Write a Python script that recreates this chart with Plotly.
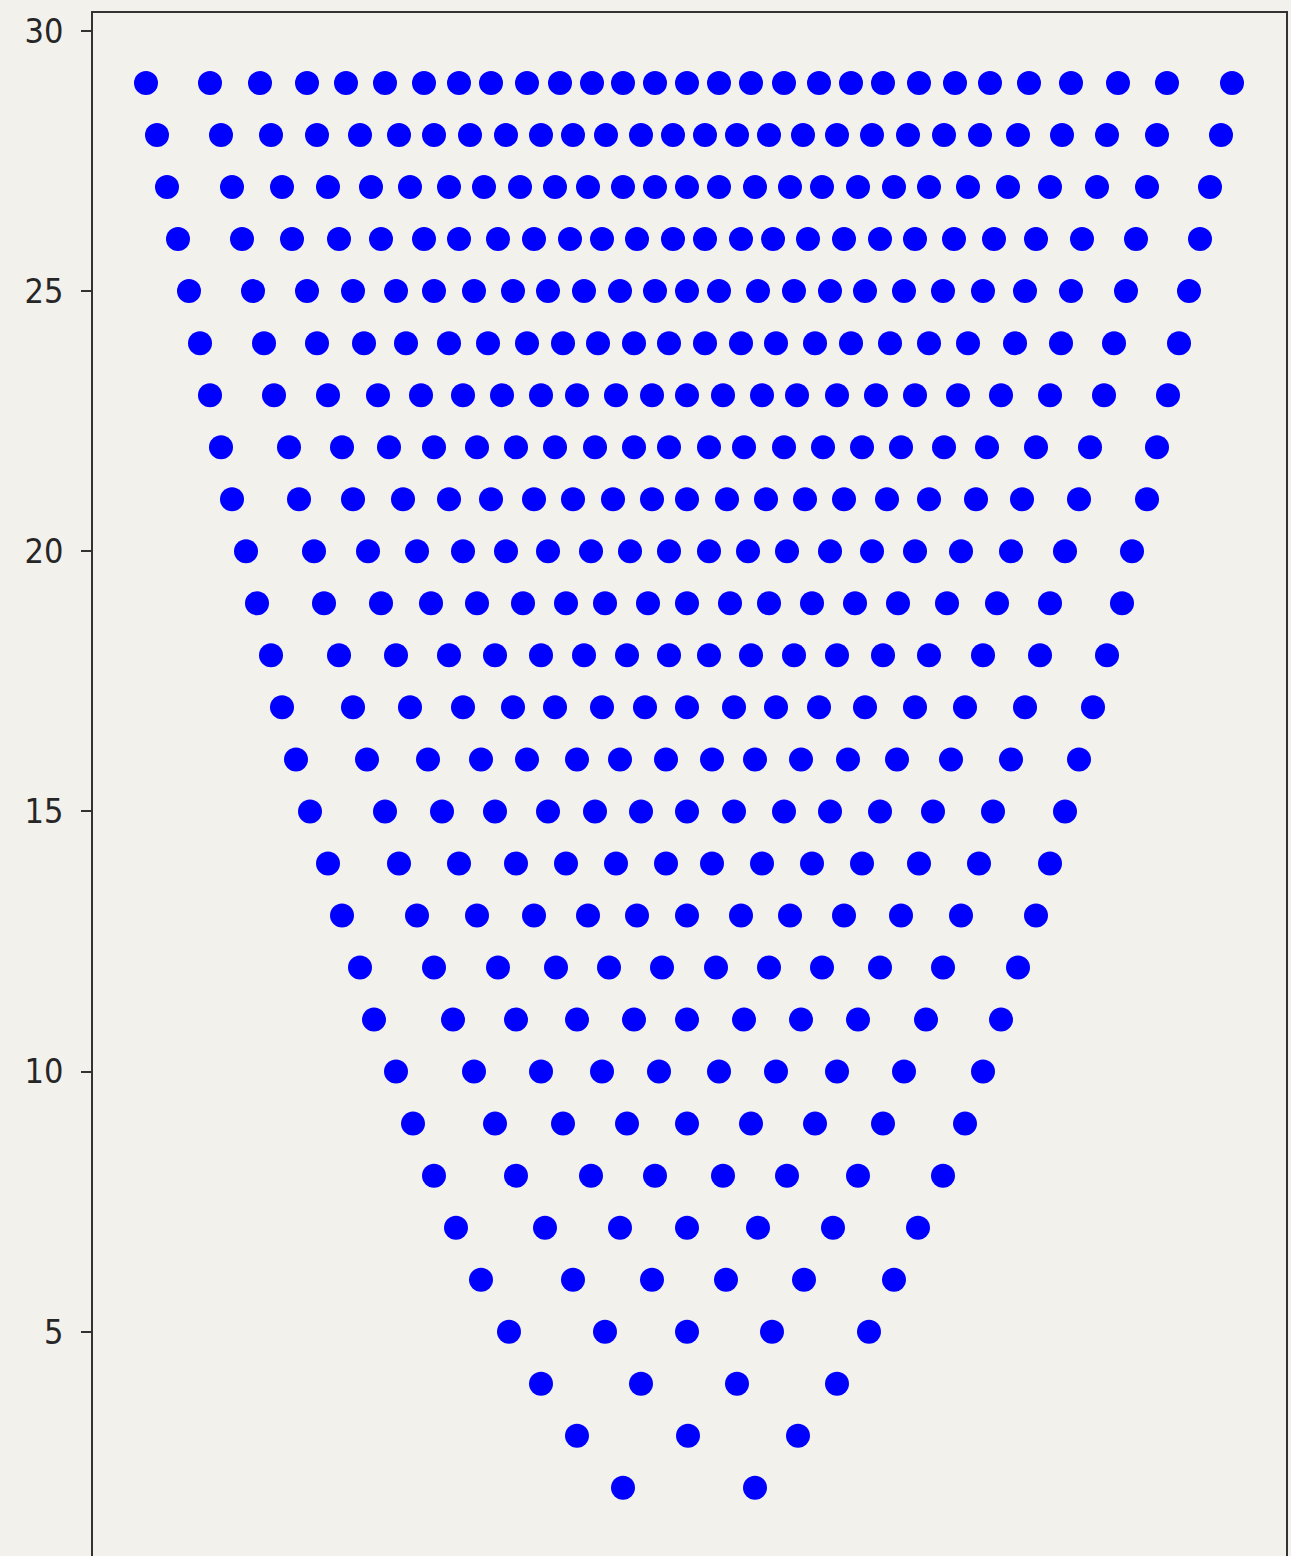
import plotly.graph_objects as go

# Point positions for each row; the row index (number of points) is the y value.
x_n29 = [-5.43, -4.79, -4.29, -3.82, -3.43, -3.04, -2.65, -2.30, -1.98, -1.62, -1.29, -0.97, -0.66, -0.34,
         -0.02, 0.30, 0.62, 0.95, 1.30, 1.62, 1.94, 2.30, 2.66, 3.01, 3.40, 3.82, 4.29, 4.78, 5.43]
x_n28 = [-5.32, -4.68, -4.18, -3.72, -3.29, -2.90, -2.55, -2.19, -1.83, -1.48, -1.16, -0.83, -0.48, -0.16,
         0.16, 0.48, 0.80, 1.14, 1.48, 1.83, 2.19, 2.55, 2.91, 3.29, 3.73, 4.18, 4.68, 5.32]
x_n27 = [-5.22, -4.57, -4.07, -3.61, -3.18, -2.79, -2.40, -2.05, -1.69, -1.34, -1.01, -0.66, -0.34, -0.02,
         0.30, 0.66, 1.01, 1.33, 1.69, 2.05, 2.40, 2.79, 3.19, 3.61, 4.08, 4.58, 5.21]
x_n26 = [-5.11, -4.47, -3.97, -3.50, -3.08, -2.65, -2.30, -1.91, -1.55, -1.19, -0.87, -0.52, -0.16,
         0.16, 0.52, 0.84, 1.19, 1.55, 1.91, 2.26, 2.65, 3.05, 3.47, 3.93, 4.47, 5.11]
x_n25 = [-5.00, -4.36, -3.82, -3.36, -2.93, -2.55, -2.15, -1.76, -1.41, -1.05, -0.69, -0.34, -0.02,
         0.30, 0.69, 1.05, 1.41, 1.76, 2.15, 2.54, 2.94, 3.36, 3.82, 4.37, 5.00]
x_n24 = [-4.89, -4.25, -3.72, -3.25, -2.83, -2.40, -2.01, -1.62, -1.26, -0.91, -0.55, -0.20,
         0.16, 0.52, 0.87, 1.26, 1.62, 2.01, 2.40, 2.79, 3.26, 3.72, 4.25, 4.90]
x_n23 = [-4.79, -4.15, -3.61, -3.11, -2.68, -2.26, -1.87, -1.48, -1.12, -0.73, -0.37, -0.02,
         0.34, 0.73, 1.08, 1.48, 1.87, 2.26, 2.69, 3.12, 3.61, 4.15, 4.79]
x_n22 = [-4.68, -4.00, -3.47, -3.00, -2.55, -2.12, -1.73, -1.34, -0.94, -0.55, -0.20,
         0.20, 0.55, 0.95, 1.34, 1.73, 2.12, 2.55, 2.98, 3.47, 4.01, 4.68]
x_n21 = [-4.57, -3.90, -3.36, -2.86, -2.40, -1.98, -1.55, -1.16, -0.76, -0.37, -0.02,
         0.38, 0.77, 1.16, 1.55, 1.98, 2.40, 2.87, 3.33, 3.90, 4.58]
x_n20 = [-4.43, -3.75, -3.21, -2.72, -2.26, -1.83, -1.41, -0.98, -0.59, -0.20,
         0.20, 0.59, 0.98, 1.41, 1.83, 2.26, 2.72, 3.22, 3.76, 4.43]
x_n19 = [-4.32, -3.65, -3.08, -2.58, -2.12, -1.66, -1.23, -0.84, -0.41, -0.02,
         0.41, 0.80, 1.23, 1.66, 2.09, 2.58, 3.08, 3.61, 4.33]
x_n18 = [-4.18, -3.50, -2.93, -2.40, -1.94, -1.48, -1.05, -0.62, -0.20,
         0.20, 0.62, 1.05, 1.48, 1.94, 2.40, 2.94, 3.51, 4.18]
x_n17 = [-4.07, -3.36, -2.79, -2.26, -1.76, -1.34, -0.87, -0.44, -0.02,
         0.45, 0.87, 1.30, 1.76, 2.26, 2.76, 3.36, 4.04]
x_n16 = [-3.93, -3.22, -2.61, -2.08, -1.62, -1.12, -0.69, -0.23,
         0.23, 0.66, 1.12, 1.59, 2.08, 2.62, 3.22, 3.90]
x_n15 = [-3.79, -3.04, -2.47, -1.94, -1.41, -0.94, -0.48, -0.02,
         0.45, 0.95, 1.41, 1.91, 2.44, 3.04, 3.76]
x_n14 = [-3.61, -2.90, -2.30, -1.73, -1.23, -0.73, -0.23,
         0.23, 0.73, 1.23, 1.73, 2.30, 2.90, 3.61]
x_n13 = [-3.47, -2.72, -2.12, -1.55, -1.01, -0.52, -0.02,
         0.52, 1.01, 1.55, 2.12, 2.72, 3.47]
x_n12 = [-3.29, -2.55, -1.91, -1.33, -0.80, -0.27,
         0.27, 0.80, 1.33, 1.91, 2.54, 3.29]
x_n11 = [-3.15, -2.36, -1.73, -1.12, -0.55, -0.02,
         0.55, 1.12, 1.69, 2.37, 3.12]
x_n10 = [-2.93, -2.15, -1.48, -0.87, -0.30, 0.30, 0.87, 1.48, 2.15, 2.94]
x_n9 = [-2.76, -1.94, -1.26, -0.62, -0.02, 0.62, 1.26, 1.94, 2.76]
x_n8 = [-2.55, -1.73, -0.98, -0.34, 0.34, 0.98, 1.69, 2.54]
x_n7 = [-2.33, -1.44, -0.69, -0.02, 0.69, 1.44, 2.29]
x_n6 = [-2.08, -1.16, -0.37, 0.37, 1.15, 2.05]
x_n5 = [-1.80, -0.84, -0.02, 0.83, 1.80]
x_n4 = [-1.48, -0.48, 0.48, 1.48]
x_n3 = [-1.12, -0.01, 1.09]
x_n2 = [-0.66, 0.66]

rows = [x_n2, x_n3, x_n4, x_n5, x_n6, x_n7, x_n8, x_n9, x_n10, x_n11, x_n12, x_n13, x_n14, x_n15,
        x_n16, x_n17, x_n18, x_n19, x_n20, x_n21, x_n22, x_n23, x_n24, x_n25, x_n26, x_n27, x_n28, x_n29]

y_ticks = [5, 10, 15, 20, 25, 30]

xs, ys = [], []
for row in rows:
    n = len(row)
    xs.extend(row)
    ys.extend([n] * n)

bg = "#f3f1ec"
axis_color = "#333333"

fig = go.Figure(
    go.Scatter(
        x=xs,
        y=ys,
        mode="markers",
        marker=dict(color="#0000ff", size=24, line=dict(width=0)),
        hoverinfo="x+y",
    )
)

fig.update_layout(
    width=1291,
    height=1556,
    margin=dict(l=93, r=5, t=13, b=0),
    paper_bgcolor=bg,
    plot_bgcolor=bg,
    showlegend=False,
    font=dict(family="DejaVu Sans Condensed, DejaVu Sans", size=34, color="#262626"),
)

fig.update_xaxes(
    range=[-5.96, 5.97],
    side="top",
    showgrid=False,
    zeroline=False,
    showticklabels=False,
    ticks="",
    showline=True,
    linecolor=axis_color,
    linewidth=1.6,
    mirror=False,
)

fig.update_yaxes(
    range=[0.69, 30.345],
    tickvals=y_ticks,
    ticktext=[str(v) for v in y_ticks],
    ticks="outside",
    ticklen=10,
    tickwidth=1.5,
    tickcolor=axis_color,
    ticklabelstandoff=11,
    showgrid=False,
    zeroline=False,
    showline=True,
    linecolor=axis_color,
    linewidth=1.6,
    mirror=True,
)

fig.write_html("out.html")
